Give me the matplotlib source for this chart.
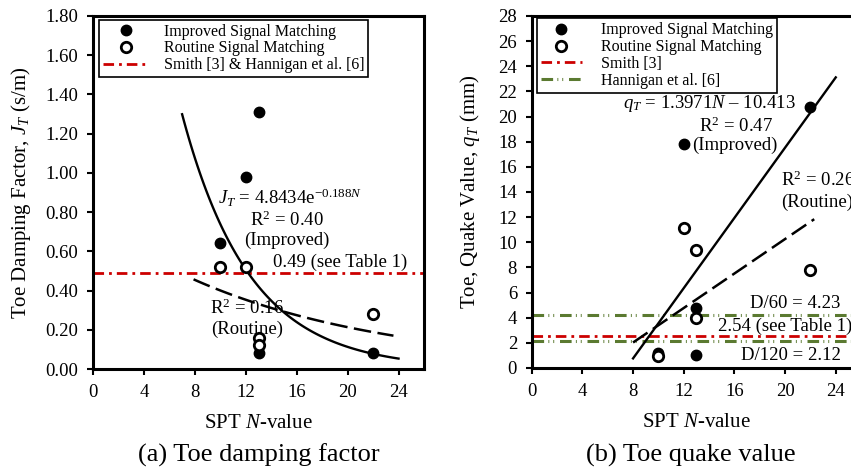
import numpy as np
import matplotlib
matplotlib.use('Agg')
from matplotlib import pyplot as plt
from matplotlib.lines import Line2D

plt.rcParams['font.family'] = ['Liberation Serif', 'DejaVu Serif']
plt.rcParams['mathtext.fontset'] = 'custom'
plt.rcParams['mathtext.rm'] = 'Liberation Serif'
plt.rcParams['mathtext.it'] = 'Liberation Serif:italic'

# (a) toe damping factor, J_T (s/m)
n_imp_a = [10, 12, 13, 13, 22]
j_imp = [0.64, 0.98, 1.31, 0.08, 0.08]
n_rout_a = [10, 12, 13, 13, 22]
j_rout = [0.52, 0.52, 0.16, 0.12, 0.28]
j_smith = 0.49
j_fit_imp = (4.8434, -0.188)     # J = a*exp(b*N), printed on chart
j_fit_rout = (0.752, -0.063)
j_range_imp = (7.0, 24.0)
j_range_rout = (7.9, 23.6)

# (b) toe quake value, q_T (mm)
n_imp_b = [10, 12, 13, 13, 22]
q_imp = [1.2, 17.8, 4.8, 1.0, 20.8]
n_rout_b = [10, 12, 13, 13, 22]
q_rout = [0.95, 11.1, 9.4, 4.0, 7.8]
q_smith = 2.54
q_d60 = 4.23
q_d120 = 2.12
q_fit_imp = (1.3971, -10.413)    # q = m*N + c, printed on chart
q_fit_rout = (0.686, -3.46)
q_range_imp = (8.0, 24.0)
q_range_rout = (8.0, 22.3)

RED = '#cc0000'
GREEN = '#5b7a31'
red_dash = (3.8, 1.8, 1.0, 1.8)
green_dash = (3.8, 1.4, 0.3, 1.3, 0.3, 1.9)
black_dash = (7, 2.6)

fig = plt.figure(figsize=(8.51, 4.67), dpi=100)
ax_a = fig.add_axes([93 / 851, 98 / 467, 331 / 851, 353 / 467])
ax_b = fig.add_axes([531.7 / 851, 99 / 467, 329.4 / 851, 352 / 467])


def style_axes(ax):
    for s in ax.spines.values():
        s.set_linewidth(2.2)
    ax.tick_params(direction='out', length=4.5, width=1.5, labelsize=13.5,
                   pad=6)
    ax.set_xlim(0, 26)
    ax.set_xticks(np.arange(0, 25, 4))
    ax.set_xlabel('SPT $N$-value', fontsize=15, labelpad=10)


def point_series(ax, n, v, filled):
    if filled:
        ax.plot(n, v, 'o', color='black', ms=7.5, zorder=5)
    else:
        ax.plot(n, v, 'o', mfc='white', mec='black', mew=2, ms=7.5, zorder=5)


# ---- (a)
ax = ax_a
style_axes(ax)
ax.set_ylim(0, 1.8)
ax.set_yticks(np.arange(0, 1.81, 0.2))
ax.set_yticklabels(['%.2f' % t for t in np.arange(0, 1.81, 0.2)])
ax.set_ylabel('Toe Damping Factor, $J_T$ (s/m)', fontsize=15)
ax.yaxis.set_label_coords(-0.18, 0.5)

ax.axhline(j_smith, color=RED, lw=2, dashes=red_dash)
nn = np.linspace(*j_range_imp, 100)
ax.plot(nn, j_fit_imp[0] * np.exp(j_fit_imp[1] * nn), color='black', lw=1.7)
nn = np.linspace(*j_range_rout, 100)
ax.plot(nn, j_fit_rout[0] * np.exp(j_fit_rout[1] * nn), color='black',
        lw=1.8, dashes=black_dash)
point_series(ax, n_imp_a, j_imp, True)
point_series(ax, n_rout_a, j_rout, False)

ax.text(15.5, 0.87, '$J_T$ = 4.8434e$^{-0.188N}$', fontsize=13.5,
        ha='center', va='center')
ax.text(15.2, 0.76, 'R$^2$ = 0.40', fontsize=13.5, ha='center', va='center')
ax.text(15.2, 0.655, '(Improved)', fontsize=13.5, ha='center', va='center')
ax.text(19.4, 0.545, '0.49 (see Table 1)', fontsize=13.5, ha='center',
        va='center')
ax.text(12.1, 0.31, 'R$^2$ = 0.16', fontsize=13.5, ha='center', va='center')
ax.text(12.1, 0.20, '(Routine)', fontsize=13.5, ha='center', va='center')

handles = [
    Line2D([], [], ls='', marker='o', color='black', ms=7.5),
    Line2D([], [], ls='', marker='o', mfc='white', mec='black', mew=2, ms=7.5),
    Line2D([], [], color=RED, lw=2, dashes=red_dash),
]
leg = ax.legend(handles, ['Improved Signal Matching', 'Routine Signal Matching',
                          'Smith [3] & Hannigan et al. [6]'],
                loc='upper left', bbox_to_anchor=(0.018, 0.99),
                fontsize=11.5, frameon=True, fancybox=False, edgecolor='black',
                framealpha=1, handlelength=2.9, labelspacing=0.05,
                borderpad=0.25, handletextpad=0.9, borderaxespad=0)
leg.get_frame().set_linewidth(1.2)

# ---- (b)
ax = ax_b
style_axes(ax)
ax.set_ylim(0, 28)
ax.set_yticks(np.arange(0, 29, 2))
ax.set_ylabel('Toe, Quake Value, $q_T$ (mm)', fontsize=15)
ax.yaxis.set_label_coords(-0.15, 0.5)

ax.axhline(q_d60, color=GREEN, lw=2.2, dashes=green_dash)
ax.axhline(q_d120, color=GREEN, lw=2.2, dashes=green_dash)
ax.axhline(q_smith, color=RED, lw=2, dashes=red_dash)
nn = np.linspace(*q_range_imp, 2)
ax.plot(nn, q_fit_imp[0] * nn + q_fit_imp[1], color='black', lw=1.7)
nn = np.linspace(*q_range_rout, 2)
ax.plot(nn, q_fit_rout[0] * nn + q_fit_rout[1], color='black', lw=1.8,
        dashes=black_dash)
point_series(ax, n_imp_b, q_imp, True)
point_series(ax, n_rout_b, q_rout, False)

ax.text(14.0, 21.05, '$q_T$ = 1.3971$N$ \u2013 10.413', fontsize=13.5,
        ha='center', va='center')
ax.text(16.1, 19.25, 'R$^2$ = 0.47', fontsize=13.5, ha='center', va='center')
ax.text(12.7, 17.7, '(Improved)', fontsize=13.5, ha='left', va='center')
ax.text(19.7, 14.95, 'R$^2$ = 0.26', fontsize=13.5, ha='left', va='center')
ax.text(19.7, 13.2, '(Routine)', fontsize=13.5, ha='left', va='center')
ax.text(24.4, 5.15, 'D/60 = 4.23', fontsize=13.5, ha='right', va='center')
ax.text(25.3, 3.3, '2.54 (see Table 1)', fontsize=13.5, ha='right',
        va='center')
ax.text(24.4, 1.0, 'D/120 = 2.12', fontsize=13.5, ha='right', va='center')

handles = [
    Line2D([], [], ls='', marker='o', color='black', ms=7.5),
    Line2D([], [], ls='', marker='o', mfc='white', mec='black', mew=2, ms=7.5),
    Line2D([], [], color=RED, lw=2, dashes=red_dash),
    Line2D([], [], color=GREEN, lw=2.2, dashes=green_dash),
]
leg = ax.legend(handles, ['Improved Signal Matching', 'Routine Signal Matching',
                          'Smith [3]', 'Hannigan et al. [6]'],
                loc='upper left', bbox_to_anchor=(0.015, 0.993),
                fontsize=11.5, frameon=True, fancybox=False, edgecolor='black',
                framealpha=1, handlelength=2.6, labelspacing=0.05,
                borderpad=0.25, handletextpad=1.2, borderaxespad=0)
leg.get_frame().set_linewidth(1.2)

fig.text(258.5 / 851, 1 - 455 / 467, '(a) Toe damping factor', fontsize=19,
         ha='center', va='center')
fig.text(691 / 851, 1 - 455 / 467, '(b) Toe quake value', fontsize=19,
         ha='center', va='center')

fig.savefig('out.png', dpi=100)
